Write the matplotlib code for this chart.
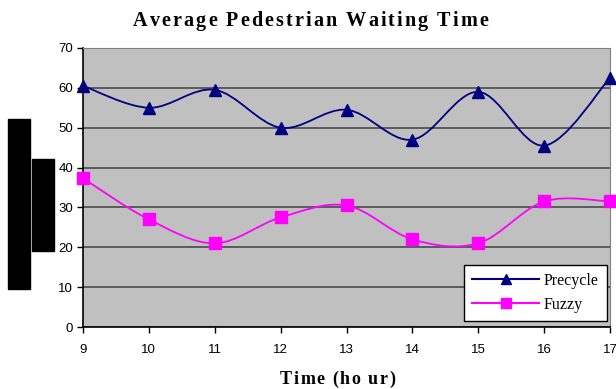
import matplotlib.pyplot as plt
from matplotlib.path import Path
from matplotlib.patches import PathPatch, Rectangle
from matplotlib.lines import Line2D
from matplotlib.font_manager import FontProperties

hours = [9, 10, 11, 12, 13, 14, 15, 16, 17]
precycle = [60.5, 55, 59.5, 50, 54.5, 47, 59, 45.5, 62.5]
fuzzy = [37.3, 27, 21, 27.5, 30.5, 22, 21, 31.5, 31.5]

NAVY = "#000080"
MAGENTA = "#FF00FF"
W, H = 616, 389


def smooth_path(xs, ys):
    # Excel-like smoothed line: cubic Bezier with Catmull-Rom control points
    pts = list(zip(xs, ys))
    verts = [pts[0]]
    codes = [Path.MOVETO]
    n = len(pts)
    for i in range(n - 1):
        p0 = pts[i - 1] if i > 0 else pts[i]
        p1 = pts[i]
        p2 = pts[i + 1]
        p3 = pts[i + 2] if i + 2 < n else pts[i + 1]
        c1 = (p1[0] + (p2[0] - p0[0]) / 6, p1[1] + (p2[1] - p0[1]) / 6)
        c2 = (p2[0] - (p3[0] - p1[0]) / 6, p2[1] - (p3[1] - p1[1]) / 6)
        verts += [c1, c2, p2]
        codes += [Path.CURVE4] * 3
    return Path(verts, codes)


def tracked_text(fig, s, x0, x1, ypx, prop):
    # spread characters evenly between x0 and x1 (pixels), like the wide Excel title
    r = fig.canvas.get_renderer()
    widths = []
    for ch in s:
        if ch == " ":
            widths.append(prop.get_size_in_points() * 100 / 72 * 0.25)
        else:
            w, _, _ = r.get_text_width_height_descent(ch, prop, ismath=False)
            widths.append(w)
    extra = (x1 - x0 - sum(widths)) / (len(s) - 1)
    x = x0
    for ch, w in zip(s, widths):
        if ch != " ":
            fig.text(x / W, 1 - ypx / H, ch, ha="left", va="baseline", fontproperties=prop)
        x += w + extra


fig = plt.figure(figsize=(W / 100, H / 100), dpi=100)
ax = fig.add_axes([83 / W, 1 - 327 / H, (610 - 83) / W, (327 - 48) / H])
ax.set_facecolor("#C0C0C0")

ax.add_patch(PathPatch(smooth_path(hours, precycle), fill=False, color=NAVY, lw=1.3, zorder=3))
ax.add_patch(PathPatch(smooth_path(hours, fuzzy), fill=False, color=MAGENTA, lw=1.3, zorder=3))
ax.plot(hours, precycle, ls="none", marker="^", ms=9, color=NAVY, zorder=4, clip_on=False)
ax.plot(hours, fuzzy, ls="none", marker="s", ms=8.5, color=MAGENTA, zorder=4, clip_on=False)

ax.set_xlim(9, 17)
ax.set_ylim(0, 70)
ax.set_xticks(hours)
ax.set_yticks(range(0, 71, 10))
ax.yaxis.grid(True, color="#4a4a4a", lw=1.2)
ax.set_axisbelow(True)
ax.tick_params(labelsize=9.5, length=4, width=1, pad=3)
for lab in ax.get_xticklabels() + ax.get_yticklabels():
    lab.set_family("Liberation Sans")
ax.tick_params(axis="x", pad=8)
for s in ["left", "bottom"]:
    ax.spines[s].set_color("black")
    ax.spines[s].set_linewidth(1.2)
for s in ["top", "right"]:
    ax.spines[s].set_color("#808080")

title_prop = FontProperties(family="Liberation Serif", weight="bold", size=14.5)
tracked_text(fig, "Average Pedestrian Waiting Time", 133, 488, 26, title_prop)
xlab_prop = FontProperties(family="Liberation Serif", weight="bold", size=13)
tracked_text(fig, "Time (ho ur)", 280, 395, 384, xlab_prop)

# redaction boxes on the left
fig.add_artist(Rectangle((8 / W, 1 - 289 / H), 22 / W, 170 / H, transform=fig.transFigure,
                         color="black"))
fig.add_artist(Rectangle((32 / W, 1 - 251 / H), 22 / W, 92 / H, transform=fig.transFigure,
                         color="black"))

handles = [Line2D([], [], color=NAVY, marker="^", ms=7, lw=1.5),
           Line2D([], [], color=MAGENTA, marker="s", ms=7, lw=1.5)]
leg = ax.legend(handles, ["Precycle", "Fuzzy"], loc="lower right",
                bbox_to_anchor=(1.0, 0.01), prop={"family": "Liberation Serif", "size": 11.5},
                fancybox=False, framealpha=1, edgecolor="black", handlelength=4.2,
                handletextpad=0.3, borderaxespad=0.2, labelspacing=0.5, borderpad=0.5)
leg.get_frame().set_linewidth(1)

fig.savefig("out.png", dpi=100)
